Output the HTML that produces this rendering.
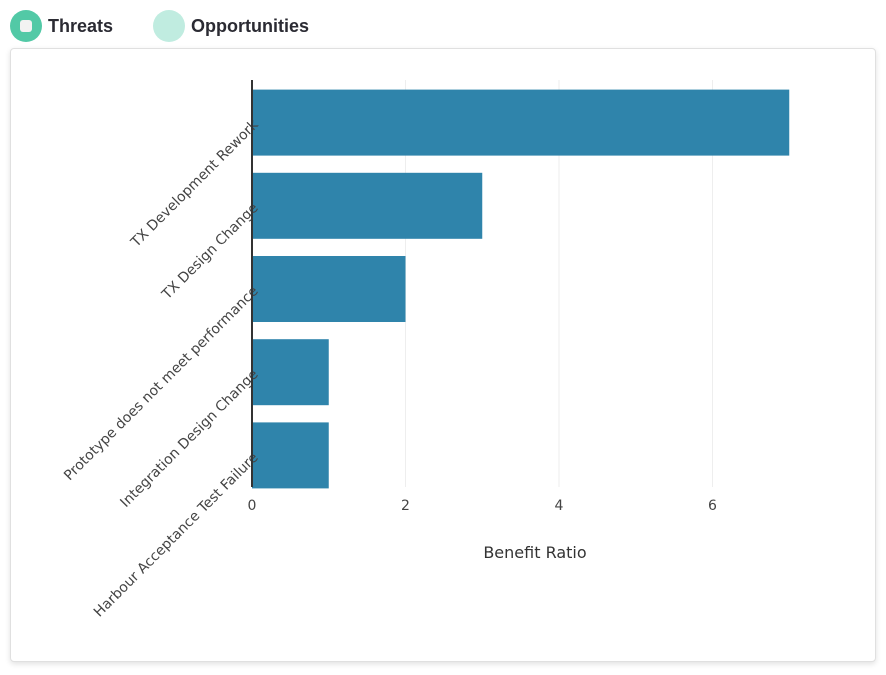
<!DOCTYPE html>
<html><head><meta charset="utf-8"><style>
body{margin:0;width:886px;height:675px;background:#fff;font-family:"Liberation Sans","DejaVu Sans",sans-serif;overflow:hidden;position:relative}
.leg{position:absolute;top:10px;display:flex;align-items:center;font-weight:bold;font-size:18px;color:#2b2b33}
.dot{width:32px;height:32px;border-radius:50%;margin-right:6px;position:relative}
.card{position:absolute;left:10px;top:48px;width:864px;height:612px;border:1px solid #e0e0e0;border-radius:4px;box-shadow:0 2px 6px rgba(0,0,0,.12);background:#fff}
svg{position:absolute;left:0;top:0}
</style></head><body>
<div class="leg" style="left:10px"><div class="dot" style="background:#52c9a6"><div style="position:absolute;left:10px;top:10px;width:12px;height:12px;border-radius:3px;background:#f2f2f2"></div></div>Threats</div>
<div class="leg" style="left:153px"><div class="dot" style="background:#c0ece0"></div>Opportunities</div>
<div class="card"></div>
<svg id="c" width="886" height="675"></svg>
<script>
const categories=["TX Development Rework","TX Design Change","Prototype does not meet performance","Integration Design Change","Harbour Acceptance Test Failure"];
const values=[7,3,2,1,1];
const ticks=[0,2,4,6];
const NS="http://www.w3.org/2000/svg",svg=document.getElementById('c');
const x0=252,pxu=76.75,plotTop=80,band=83.2,bh=66;
const X=v=>x0+v*pxu, Y=i=>plotTop+i*band+(band-bh)/2+1;
function el(t,a,txt){const e=document.createElementNS(NS,t);for(const k in a)e.setAttribute(k,a[k]);if(txt!=null)e.textContent=txt;svg.appendChild(e);return e;}
ticks.forEach(t=>{if(t>0){const g=el('line',{x1:X(t),x2:X(t),y1:plotTop,y2:487,stroke:'#eee'});

}
const l=el('text',{x:X(t),y:510,'text-anchor':'middle','font-size':14,fill:'#444','font-family':'DejaVu Sans, sans-serif'},t);

});
values.forEach((v,i)=>{const r=el('rect',{x:x0,y:Y(i),width:X(v)-x0,height:bh,fill:'#2f84ab'});


const cy=Y(i)+bh/2;
const t=el('text',{x:x0+4,y:cy+4,'text-anchor':'end','font-size':14,fill:'#444','font-family':'DejaVu Sans, sans-serif',transform:`rotate(-45 ${x0+4} ${cy})`},categories[i]);

});
const ax=el('line',{x1:x0,x2:x0,y1:plotTop,y2:487,stroke:'#333','stroke-width':2});


const xt=el('text',{x:535,y:558,'text-anchor':'middle','font-size':16,fill:'#333','font-family':'DejaVu Sans, sans-serif'},'Benefit Ratio');


</script>
</body></html>
